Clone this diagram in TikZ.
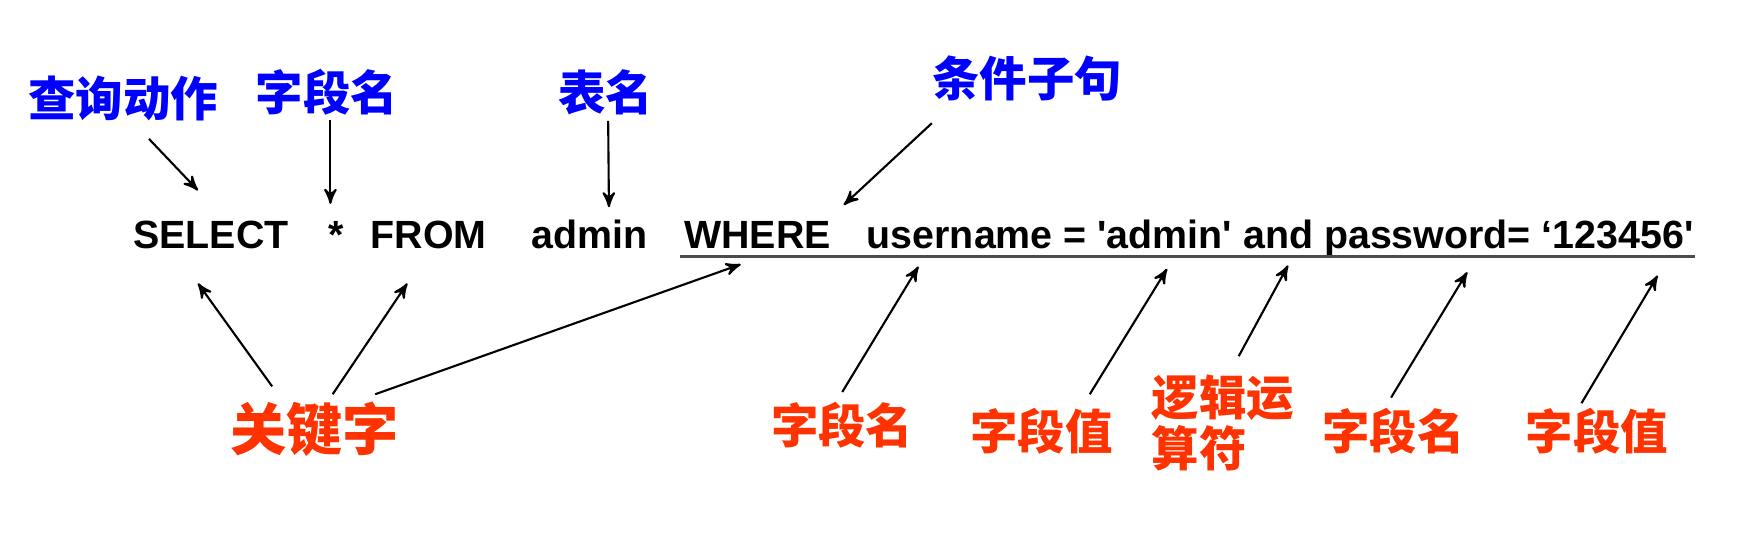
\documentclass[tikz,border=0pt]{standalone}
\usepackage{fontspec}
\setsansfont{Liberation Sans}[Ligatures=TeXOff]
\newfontfamily\cjk{Noto Sans CJK SC}
\usetikzlibrary{arrows, calc}
\definecolor{tagblue}{RGB}{0,0,255}
\definecolor{tagred}{RGB}{255,51,0}

\begin{document}
\begin{tikzpicture}[x=0.0112cm,y=-0.0112cm,->,>=stealth',semithick,
  top tag/.style={text=tagblue,font=\cjk\bfseries\fontsize{13.5}{15}\selectfont},
  bottom tag/.style={text=tagred,font=\cjk\bfseries\fontsize{13.5}{14.5}\selectfont,align=left},
  sql word/.style={anchor=base west,inner sep=0pt,font=\sffamily\bfseries\fontsize{11.2}{13}\selectfont}]
  \useasboundingbox (0,0) rectangle (1562.5,491);
  % the statement
  \node[sql word] (sel) at (118,222) {SELECT};
  \node[sql word,anchor=base] (star) at (300,222) {*};
  \node[sql word] (frm) at (330,222) {FROM};
  \node[sql word] (tname) at (474,222) {admin};
  \node[sql word] (whr) at (610,222) {WHERE};
  \node[sql word] (cond) at (773,222) {username = 'admin' and password= ‘123456'};
  \draw[-,line width=1pt,black!70] ($(whr.base west)+(-3,7)$) -- ($(cond.base east)+(0,7)$);
  % labels above
  \node[top tag] (qact) at (110,88) {查询动作};
  \node[top tag] (fld) at (292,82) {字段名};
  \node[top tag] (tbl) at (541,82) {表名};
  \node[top tag] (clause) at (917,70) {条件子句};
  % labels below
  \node[bottom tag,font=\cjk\bfseries\fontsize{16}{18}\selectfont] (kw) at (281,383) {关键字};
  \node[bottom tag] (fld1) at (752,380) {字段名};
  \node[bottom tag] (val1) at (930,385) {字段值};
  \node[bottom tag] (logic) at (1092,378) {逻辑运\\算符};
  \node[bottom tag] (fld2) at (1244,385) {字段名};
  \node[bottom tag] (val2) at (1426,385) {字段值};
  % arrows
  \draw ($(qact)+(23,36)$) -- ($(sel.base)+(-11.5,-52)$);
  \draw ($(fld)+(3,25)$) -- ($(star.base)+(-5,-40)$);
  \draw ($(tbl)+(2,26)$) -- ($(tname.base)+(17,-37)$);
  \draw ($(clause)+(-85,40)$) -- ($(whr.base)+(77,-39)$);
  \draw ($(kw)+(-38,-38)$) -- ($(sel.base)+(-11.5,31)$);
  \draw ($(kw)+(16,-31)$) -- ($(frm.base)+(-19,31)$);
  \draw ($(kw)+(54,-31)$) -- ($(whr.base)+(-15,14)$);
  \draw ($(fld1)+(0,-30)$) -- ($(cond.base west)+(47,16)$);
  \draw ($(val1)+(43,-33)$) -- ($(cond.base west)+(269,18)$);
  \draw ($(logic)+(14,-60)$) -- ($(cond.base west)+(377,15)$);
  \draw ($(fld2)+(-2,-30)$) -- ($(cond.base west)+(537,21)$);
  \draw ($(val2)+(-14,-25)$) -- ($(cond.base west)+(707,24)$);
\end{tikzpicture}
\end{document}
